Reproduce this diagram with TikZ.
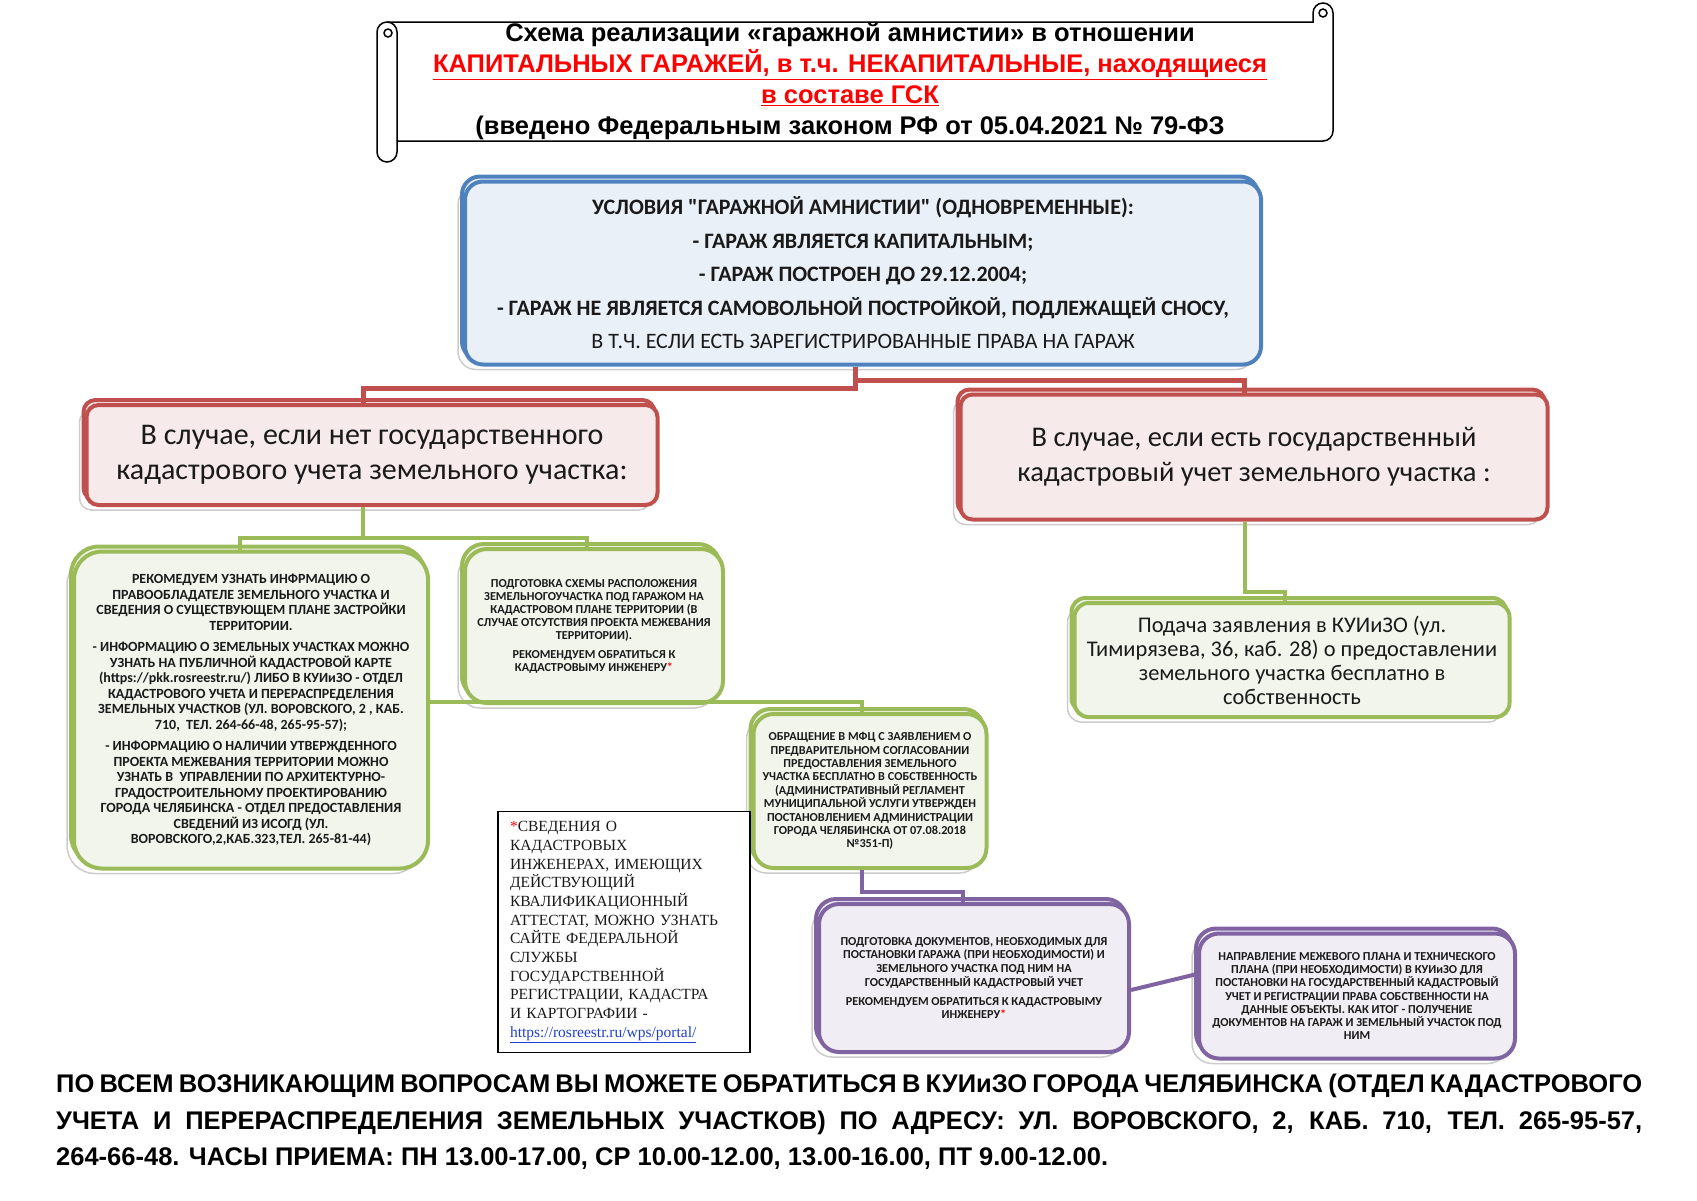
\documentclass[tikz,border=0pt]{standalone}
\usepackage{fontspec}
\setmainfont{Carlito}
\newfontfamily\headfont{Liberation Sans}
\newfontfamily\notefont{Liberation Serif}
\usetikzlibrary{shadows}
\definecolor{boxblue}{HTML}{4F81BD}
\definecolor{fillblue}{HTML}{EAF0F8}
\definecolor{boxred}{HTML}{C0504D}
\definecolor{fillred}{HTML}{F7EAEA}
\definecolor{boxgreen}{HTML}{9BBB59}
\definecolor{fillgreen}{HTML}{F2F5EC}
\definecolor{boxpurple}{HTML}{8064A2}
\definecolor{fillpurple}{HTML}{F0EEF4}
\definecolor{shadowgray}{HTML}{CCCCCC}
\definecolor{textdark}{HTML}{1A1A1A}
\definecolor{linkblue}{HTML}{1F3FCC}
% straight double quote, bypassing the TeX ligature mapping
\newcommand{\plainquote}{\XeTeXglyph\XeTeXcharglyph"22\relax}

\begin{document}
\begin{tikzpicture}[x=1pt, y=-1pt,
    card/.style n args={3}{draw=#1, fill=#2, line width=4pt, rounded corners=#3,
      align=center, inner sep=0pt, text=textdark,
      general shadow={shadow xshift=-7pt, shadow yshift=-5pt, draw=shadowgray, line width=1.5pt, fill=white},
      general shadow={shadow xshift=-3pt, shadow yshift=5pt, draw=#1, line width=4pt, fill=#2}},
    scrollline/.style={draw=black, line width=1.5pt, fill=white},
    redline/.style={draw=boxred, line width=5pt},
    greenline/.style={draw=boxgreen, line width=4pt},
    purpleline/.style={draw=boxpurple, line width=4pt}]

    \useasboundingbox (0,0) rectangle (1697,1200);

    % 1. Scroll banner behind the title
    \filldraw[scrollline] (387,22) -- (1313,22) -- (1313,13)
        arc[start angle=180, end angle=360, radius=10] -- (1333,131)
        arc[start angle=0, end angle=90, radius=10] -- (397,141) -- (397,152)
        arc[start angle=0, end angle=180, radius=10] -- (377,32)
        arc[start angle=180, end angle=270, radius=10] -- cycle;
    \draw[scrollline, fill=none] (387,22) arc[start angle=270, end angle=360, radius=10] -- (397,141);
    \draw[scrollline] (388,33) circle (4);
    \draw[scrollline] (1323,13) circle (4);

    % 2. Title text
    \node[font=\headfont\bfseries\fontsize{25.5}{31}\selectfont, align=center] (title) at (850,81)
        {Схема реализации «гаражной амнистии» в отношении\\
         {\color{red}\underline{КАПИТАЛЬНЫХ ГАРАЖЕЙ, в т.ч. НЕКАПИТАЛЬНЫЕ, находящиеся}}\\
         {\color{red}\underline{в составе ГСК}}\\
         (введено Федеральным законом РФ от 05.04.2021 № 79-ФЗ};

    % 3. Conditions
    \node[card={boxblue}{fillblue}{18pt}, minimum width=796, minimum height=183,
          font=\fontsize{22}{33.5}\selectfont] (cond) at (863,273)
        {\textbf{УСЛОВИЯ \plainquote ГАРАЖНОЙ АМНИСТИИ\plainquote\ (ОДНОВРЕМЕННЫЕ):}\\
         \textbf{- ГАРАЖ ЯВЛЯЕТСЯ КАПИТАЛЬНЫМ;}\\
         \textbf{- ГАРАЖ ПОСТРОЕН ДО 29.12.2004;}\\
         \textbf{- ГАРАЖ НЕ ЯВЛЯЕТСЯ САМОВОЛЬНОЙ ПОСТРОЙКОЙ, ПОДЛЕЖАЩЕЙ СНОСУ,}\\
         В Т.Ч. ЕСЛИ ЕСТЬ ЗАРЕГИСТРИРОВАННЫЕ ПРАВА НА ГАРАЖ};

    % 4. Two cases
    \node[card={boxred}{fillred}{12pt}, minimum width=571, minimum height=100,
          font=\fontsize{30}{35}\selectfont] (noreg) at (372,455)
        {В случае, если нет государственного\\кадастрового учета земельного участка:};
    \node[card={boxred}{fillred}{12pt}, minimum width=587, minimum height=125,
          font=\fontsize{28.5}{35}\selectfont] (reg) at (1254,457)
        {В случае, если есть государственный\\кадастровый учет земельного участка :};

    % 5. Left branch
    \node[card={boxgreen}{fillgreen}{28pt}, minimum width=354, minimum height=317,
          font=\bfseries\fontsize{14}{15.5}\selectfont] (info) at (251,710)
        {РЕКОМЕДУЕМ УЗНАТЬ ИНФРМАЦИЮ О\\
         ПРАВООБЛАДАТЕЛЕ ЗЕМЕЛЬНОГО УЧАСТКА И\\
         СВЕДЕНИЯ О СУЩЕСТВУЮЩЕМ ПЛАНЕ ЗАСТРОЙКИ\\
         ТЕРРИТОРИИ.\\[6pt]
         - ИНФОРМАЦИЮ О ЗЕМЕЛЬНЫХ УЧАСТКАХ МОЖНО\\
         УЗНАТЬ НА ПУБЛИЧНОЙ КАДАСТРОВОЙ КАРТЕ\\
         (https://pkk.rosreestr.ru/) ЛИБО В КУИиЗО - ОТДЕЛ\\
         КАДАСТРОВОГО УЧЕТА И ПЕРЕРАСПРЕДЕЛЕНИЯ\\
         ЗЕМЕЛЬНЫХ УЧАСТКОВ (УЛ. ВОРОВСКОГО, 2 , КАБ.\\
         710, \ ТЕЛ. 264-66-48, 265-95-57);\\[6pt]
         - ИНФОРМАЦИЮ О НАЛИЧИИ УТВЕРЖДЕННОГО\\
         ПРОЕКТА МЕЖЕВАНИЯ ТЕРРИТОРИИ МОЖНО\\
         УЗНАТЬ В \ УПРАВЛЕНИИ ПО АРХИТЕКТУРНО-\\
         ГРАДОСТРОИТЕЛЬНОМУ ПРОЕКТИРОВАНИЮ\\
         ГОРОДА ЧЕЛЯБИНСКА - ОТДЕЛ ПРЕДОСТАВЛЕНИЯ\\
         СВЕДЕНИЙ ИЗ ИСОГД (УЛ.\\
         ВОРОВСКОГО,2,КАБ.323,ТЕЛ. 265-81-44)};
    \node[card={boxgreen}{fillgreen}{22pt}, minimum width=258, minimum height=154,
          font=\bfseries\fontsize{12.2}{13}\selectfont] (scheme) at (594,626)
        {ПОДГОТОВКА СХЕМЫ РАСПОЛОЖЕНИЯ\\
         ЗЕМЕЛЬНОГОУЧАСТКА ПОД ГАРАЖОМ НА\\
         КАДАСТРОВОМ ПЛАНЕ ТЕРРИТОРИИ (В\\
         СЛУЧАЕ ОТСУТСТВИЯ ПРОЕКТА МЕЖЕВАНИЯ\\
         ТЕРРИТОРИИ).\\[6pt]
         РЕКОМЕНДУЕМ ОБРАТИТЬСЯ К\\
         КАДАСТРОВЫМУ ИНЖЕНЕРУ{\color{red}*}};
    \node[card={boxgreen}{fillgreen}{20pt}, minimum width=233, minimum height=154,
          font=\bfseries\fontsize{12.2}{13.4}\selectfont] (mfc) at (870,791)
        {ОБРАЩЕНИЕ В МФЦ С ЗАЯВЛЕНИЕМ О\\
         ПРЕДВАРИТЕЛЬНОМ СОГЛАСОВАНИИ\\
         ПРЕДОСТАВЛЕНИЯ ЗЕМЕЛЬНОГО\\
         УЧАСТКА БЕСПЛАТНО В СОБСТВЕННОСТЬ\\
         (АДМИНИСТРАТИВНЫЙ РЕГЛАМЕНТ\\
         МУНИЦИПАЛЬНОЙ УСЛУГИ УТВЕРЖДЕН\\
         ПОСТАНОВЛЕНИЕМ АДМИНИСТРАЦИИ\\
         ГОРОДА ЧЕЛЯБИНСКА ОТ 07.08.2018\\
         №351-П)};
    \node[card={boxpurple}{fillpurple}{20pt}, minimum width=310, minimum height=148,
          font=\bfseries\fontsize{12.2}{13.7}\selectfont] (docs) at (974,978)
        {ПОДГОТОВКА ДОКУМЕНТОВ, НЕОБХОДИМЫХ ДЛЯ\\
         ПОСТАНОВКИ ГАРАЖА (ПРИ НЕОБХОДИМОСТИ) И\\
         ЗЕМЕЛЬНОГО УЧАСТКА ПОД НИМ НА\\
         ГОСУДАРСТВЕННЫЙ КАДАСТРОВЫЙ УЧЕТ\\[5pt]
         РЕКОМЕНДУЕМ ОБРАТИТЬСЯ К КАДАСТРОВЫМУ\\
         ИНЖЕНЕРУ{\color{red}*}};
    \node[card={boxpurple}{fillpurple}{20pt}, minimum width=316, minimum height=125,
          font=\bfseries\fontsize{12.2}{13.3}\selectfont] (plans) at (1357,996)
        {НАПРАВЛЕНИЕ МЕЖЕВОГО ПЛАНА И ТЕХНИЧЕСКОГО\\
         ПЛАНА (ПРИ НЕОБХОДИМОСТИ) В КУИиЗО ДЛЯ\\
         ПОСТАНОВКИ НА ГОСУДАРСТВЕННЫЙ КАДАСТРОВЫЙ\\
         УЧЕТ И РЕГИСТРАЦИИ ПРАВА СОБСТВЕННОСТИ НА\\
         ДАННЫЕ ОБЪЕКТЫ. КАК ИТОГ - ПОЛУЧЕНИЕ\\
         ДОКУМЕНТОВ НА ГАРАЖ И ЗЕМЕЛЬНЫЙ УЧАСТОК ПОД\\
         НИМ};

    % 6. Right branch
    \node[card={boxgreen}{fillgreen}{14pt}, minimum width=435, minimum height=114,
          font=\fontsize{22.4}{24}\selectfont] (apply) at (1292,660)
        {Подача заявления в КУИиЗО (ул.\\
         Тимирязева, 36, каб. 28) о предоставлении\\
         земельного участка бесплатно в\\
         собственность};

    % 7. Footnote on cadastral engineers
    \node[draw=black, line width=1.5pt, fill=white, minimum width=252, minimum height=241,
          text width=228, inner sep=0pt, align=left, text=textdark,
          font=\notefont\fontsize{15.5}{18.7}\selectfont] (note) at (624,932)
        {{\color{red}*}СВЕДЕНИЯ О\\
         КАДАСТРОВЫХ\\
         ИНЖЕНЕРАХ, ИМЕЮЩИХ\\
         ДЕЙСТВУЮЩИЙ\\
         КВАЛИФИКАЦИОННЫЙ\\
         АТТЕСТАТ, МОЖНО УЗНАТЬ\\
         САЙТЕ ФЕДЕРАЛЬНОЙ\\
         СЛУЖБЫ\\
         ГОСУДАРСТВЕННОЙ\\
         РЕГИСТРАЦИИ, КАДАСТРА\\
         И КАРТОГРАФИИ -\\
         {\color{linkblue}\underline{https://rosreestr.ru/wps/portal/}}};

    % 8. Contacts at the bottom
    \node[anchor=west, inner sep=0pt, align=left,
          font=\headfont\bfseries\fontsize{25.5}{36.5}\selectfont] (contacts) at (56,1122)
        {\makebox[1586pt][s]{ПО ВСЕМ ВОЗНИКАЮЩИМ ВОПРОСАМ ВЫ МОЖЕТЕ ОБРАТИТЬСЯ В КУИиЗО ГОРОДА ЧЕЛЯБИНСКА (ОТДЕЛ КАДАСТРОВОГО}\\
         \makebox[1586pt][s]{УЧЕТА И ПЕРЕРАСПРЕДЕЛЕНИЯ ЗЕМЕЛЬНЫХ УЧАСТКОВ) ПО АДРЕСУ: УЛ. ВОРОВСКОГО, 2, КАБ. 710, ТЕЛ. 265-95-57,}\\
         264-66-48. ЧАСЫ ПРИЕМА: ПН 13.00-17.00, СР 10.00-12.00, 13.00-16.00, ПТ 9.00-12.00.};

    % 9. Connectors
    \draw[redline] ([xshift=-8pt]cond.south) -- ++(0,22) -| ([xshift=-9pt]noreg.north);
    \draw[redline] ([xshift=-8pt]cond.south) -- ++(0,14) -| ([xshift=-10pt]reg.north);
    \draw[greenline] ([xshift=-9pt]noreg.south) -- ++(0,31) -| ([xshift=-11pt]info.north);
    \draw[greenline] ([xshift=-9pt]noreg.south) -- ++(0,31) -| ([xshift=-7pt]scheme.north);
    \draw[greenline] ([yshift=8pt]info.east) -| ([xshift=-8pt]mfc.north);
    \draw[purpleline] ([xshift=-8pt]mfc.south) -- ++(0,22) -| ([xshift=-11pt]docs.north);
    \draw[purpleline] ([yshift=-12pt]docs.east) -- ([yshift=22pt]plans.west);
    \draw[greenline] ([xshift=-9pt]reg.south) -- ++(0,70) -| ([xshift=-7pt]apply.north);

\end{tikzpicture}
\end{document}
